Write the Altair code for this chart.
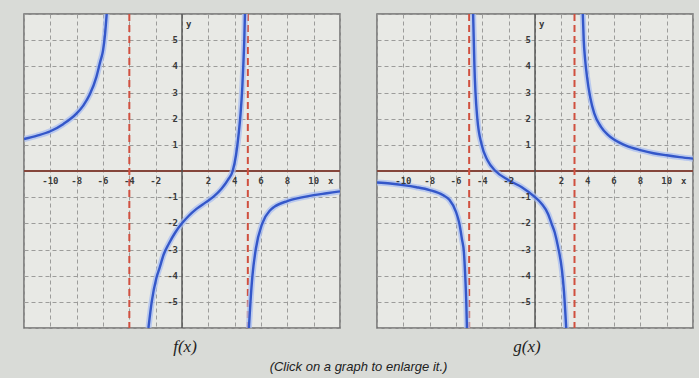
import altair as alt
import pandas as pd

# ---- f(x): three branches, vertical asymptotes at x = -4 and x = 5 ----
F_LEFT_X = [-12, -11, -10, -9, -8, -7.5, -7, -6.5, -6.2, -6, -5.85, -5.72]
F_LEFT_Y = [1.22, 1.35, 1.52, 1.8, 2.2, 2.5, 2.93, 3.6, 4.2, 4.6, 5.2, 6]
F_MID_X = [-2.55, -2.3, -1.95, -1.7, -1.4, -1.0, -0.5, 0, 0.5, 1.1, 1.8, 2.4, 3.0, 3.5, 3.85,
           4.1, 4.3, 4.45, 4.58, 4.67, 4.73, 4.78]
F_MID_Y = [-6, -5, -4.1, -3.7, -3.2, -2.78, -2.34, -2, -1.72, -1.45, -1.2, -0.98, -0.68, -0.33, 0,
           0.6, 1.4, 2.2, 3.2, 4.2, 5.0, 6]
F_RIGHT_X = [5.08, 5.2, 5.35, 5.6, 6.1, 6.7, 7, 8, 9, 10, 11, 12]
F_RIGHT_Y = [-6, -5, -4, -3, -2, -1.5, -1.37, -1.15, -1.02, -0.92, -0.85, -0.78]
F_ASYMPTOTES = [-4, 5]

# ---- g(x): three branches, vertical asymptotes at x = -5 and x = 3 ----
G_LEFT_X = [-12, -11, -10, -9, -8, -7, -6.5, -6, -5.75, -5.55, -5.4, -5.3, -5.22, -5.17]
G_LEFT_Y = [-0.44, -0.48, -0.54, -0.62, -0.73, -0.92, -1.1, -1.56, -2.0, -2.6, -3.1, -4, -5, -6]
G_MID_X = [-4.7, -4.65, -4.6, -4.52, -4.38, -4.05, -3.6, -3.0, -2, -1, 0, 0.5, 1, 1.25, 1.5, 1.75, 2.05, 2.2, 2.37]
G_MID_Y = [6, 5, 4, 3, 2, 1, 0.4, 0, -0.35, -0.62, -1.0, -1.25, -1.65, -2.0, -2.35, -2.9, -3.8, -4.6, -6]
G_RIGHT_X = [3.63, 3.7, 3.8, 3.95, 4.2, 4.5, 5, 5.5, 6, 7, 8, 9, 10, 11, 12]
G_RIGHT_Y = [6, 5, 4.3, 3.6, 2.8, 2.2, 1.7, 1.4, 1.2, 0.95, 0.8, 0.68, 0.6, 0.53, 0.47]
G_ASYMPTOTES = [-5, 3]

# ---- axes, grid and tick labels ----
X_GRID = list(range(-12, 13, 2))
Y_GRID = list(range(-6, 7))
X_TICKS = [-10, -8, -6, -4, -2, 2, 4, 6, 8, 10]
Y_TICKS = [5, 4, 3, 2, 1, -1, -2, -3, -4, -5]

PANEL_W = 316
PANEL_H = 314

X_SCALE = alt.Scale(domain=[-12, 12], nice=False, zero=False)
Y_SCALE = alt.Scale(domain=[-6, 6], nice=False, zero=False)
X_AXIS = alt.Axis(values=X_GRID, grid=True, gridDash=[4, 3], gridColor="#9c9c9a",
                  gridWidth=1, labels=False, ticks=False, domain=False, title=None)
Y_AXIS = alt.Axis(values=Y_GRID, grid=True, gridDash=[4, 3], gridColor="#9c9c9a",
                  gridWidth=1, labels=False, ticks=False, domain=False, title=None)


def X(field):
    return alt.X(field, type="quantitative", scale=X_SCALE, axis=X_AXIS)


def Y(field):
    return alt.Y(field, type="quantitative", scale=Y_SCALE, axis=Y_AXIS)


LABEL_FONT = dict(font="DejaVu Sans Mono", fontSize=9, fontWeight="bold", color="#3a3a3a")


def panel(branches, asymptotes, name, title_dx):
    rows = []
    for key, (xs, ys) in branches.items():
        for x, y in zip(xs, ys):
            rows.append({"branch": key, "x": x, "y": y})
    curves = pd.DataFrame(rows)

    asym = pd.DataFrame({"x": asymptotes})
    xaxis_line = pd.DataFrame({"y": [0]})
    yaxis_line = pd.DataFrame({"x": [0]})
    xlab = pd.DataFrame({"x": X_TICKS, "y": [0] * len(X_TICKS), "t": [str(v) for v in X_TICKS]})
    ylab = pd.DataFrame({"x": [0] * len(Y_TICKS), "y": Y_TICKS, "t": [str(v) for v in Y_TICKS]})
    xname = pd.DataFrame({"x": [11.3], "y": [0], "t": ["x"]})
    yname = pd.DataFrame({"x": [0], "y": [5.6], "t": ["y"]})

    x_axis = alt.Chart(xaxis_line).mark_rule(color="#85463b", strokeWidth=2).encode(y=Y("y"))
    y_axis = alt.Chart(yaxis_line).mark_rule(color="#4e4e4e", strokeWidth=1.4).encode(x=X("x"))
    asym_rules = alt.Chart(asym).mark_rule(
        color="#d0503f", strokeDash=[7, 4], strokeWidth=2
    ).encode(x=X("x"))

    halo = alt.Chart(curves).mark_line(
        interpolate="monotone", clip=True, color="#a9bdf0", strokeWidth=6, opacity=0.75
    ).encode(x=X("x"), y=Y("y"), detail="branch:N")
    line = alt.Chart(curves).mark_line(
        interpolate="monotone", clip=True, color="#3457c9", strokeWidth=2.4
    ).encode(x=X("x"), y=Y("y"), detail="branch:N")

    xlabels = alt.Chart(xlab).mark_text(dy=10, align="center", **LABEL_FONT).encode(
        x=X("x"), y=Y("y"), text="t:N")
    ylabels = alt.Chart(ylab).mark_text(dx=-4, align="right", baseline="middle", **LABEL_FONT).encode(
        x=X("x"), y=Y("y"), text="t:N")
    xname_t = alt.Chart(xname).mark_text(dy=10, align="center", **LABEL_FONT).encode(
        x=X("x"), y=Y("y"), text="t:N")
    yname_t = alt.Chart(yname).mark_text(dx=4, align="left", **LABEL_FONT).encode(
        x=X("x"), y=Y("y"), text="t:N")

    return alt.layer(
        x_axis, y_axis, asym_rules, halo, line, xlabels, ylabels, xname_t, yname_t
    ).properties(
        width=PANEL_W,
        height=PANEL_H,
        title=alt.TitleParams(
            name, orient="bottom", anchor="middle", font="Liberation Serif",
            fontStyle="italic", fontWeight="normal", fontSize=17, color="#222222",
            offset=10, dx=title_dx,
        ),
    )


f_panel = panel(
    {"a": (F_LEFT_X, F_LEFT_Y), "b": (F_MID_X, F_MID_Y), "c": (F_RIGHT_X, F_RIGHT_Y)},
    F_ASYMPTOTES, "f(x)", 3)
g_panel = panel(
    {"a": (G_LEFT_X, G_LEFT_Y), "b": (G_MID_X, G_MID_Y), "c": (G_RIGHT_X, G_RIGHT_Y)},
    G_ASYMPTOTES, "g(x)", -8)

chart = alt.hconcat(f_panel, g_panel, spacing=33).properties(
    title=alt.TitleParams(
        "(Click on a graph to enlarge it.)", orient="bottom", anchor="middle",
        font="Liberation Sans", fontStyle="italic", fontWeight="normal",
        fontSize=13, color="#222222", offset=5,
    ),
    padding={"left": 22, "top": 12, "right": 4, "bottom": 4},
    background="#d9dbd7",
).configure_view(
    stroke="#6e6e6e", strokeWidth=1.5, fill="#e8e9e5"
)

chart.save("out.html", embed_options={"renderer": "svg", "actions": False})
